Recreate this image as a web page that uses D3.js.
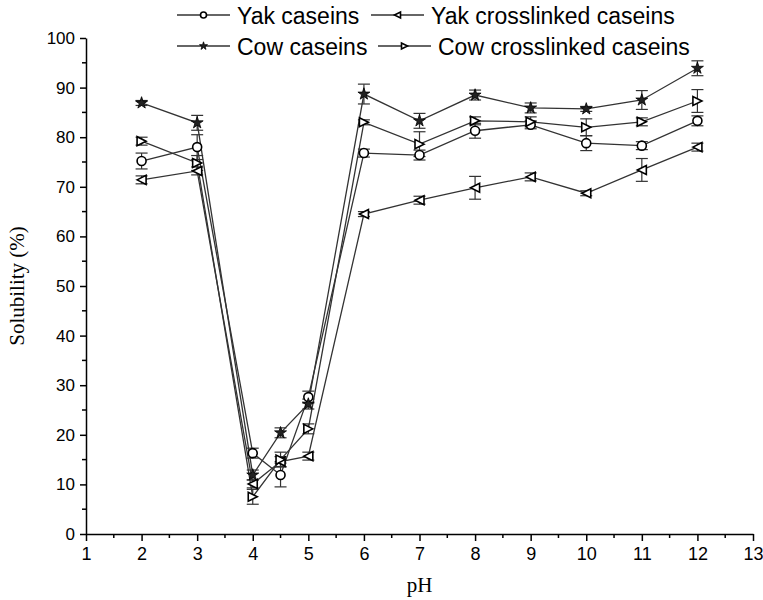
<!DOCTYPE html>
<html>
<head>
<meta charset="utf-8">
<script src="https://cdn.jsdelivr.net/npm/d3@7"></script>
<style>
  body { margin: 0; background: #fff; }
  svg text { fill: #000; }
</style>
</head>
<body>
<div id="chart"></div>
<script>
var pH = [2, 3, 4, 4.5, 5, 6, 7, 8, 9, 10, 11, 12];

var yakCaseins = [75.2, 78.0, 16.3, 11.9, 27.6, 76.8, 76.4, 81.3, 82.5, 78.8, 78.3, 83.3];
var yakCaseinsErr = [1.6, 2.5, 1.0, 2.4, 1.2, 0.8, 1.0, 1.5, 0.8, 1.5, 0.8, 1.0];

var yakCross = [71.4, 73.2, 10.1, 14.6, 15.7, 64.5, 67.3, 69.8, 72.0, 68.7, 73.4, 78.0];
var yakCrossErr = [0.8, 0.8, 0.8, 1.0, 0.8, 0.5, 0.8, 2.3, 0.8, 0.5, 2.3, 0.8];

var cowCaseins = [86.9, 82.9, 11.9, 20.4, 26.2, 88.7, 83.3, 88.5, 85.9, 85.7, 87.5, 93.9];
var cowCaseinsErr = [0.5, 1.5, 1.0, 1.0, 1.0, 2.0, 1.5, 1.0, 1.0, 0.5, 1.9, 1.5];

var cowCross = [79.2, 74.8, 7.5, 15.0, 21.2, 83.0, 78.6, 83.3, 83.1, 82.0, 83.1, 87.3];
var cowCrossErr = [0.8, 1.5, 1.5, 1.5, 1.0, 0.5, 2.5, 0.8, 1.0, 1.7, 0.8, 2.3];

var xTicks = [1, 2, 3, 4, 5, 6, 7, 8, 9, 10, 11, 12, 13];
var yTicks = [0, 10, 20, 30, 40, 50, 60, 70, 80, 90, 100];

var series = [
  { name: "Yak caseins", values: yakCaseins, err: yakCaseinsErr, marker: "circle" },
  { name: "Yak crosslinked caseins", values: yakCross, err: yakCrossErr, marker: "left" },
  { name: "Cow caseins", values: cowCaseins, err: cowCaseinsErr, marker: "star" },
  { name: "Cow crosslinked caseins", values: cowCross, err: cowCrossErr, marker: "right" }
];

var width = 763, height = 600;
var svg = d3.select("#chart").append("svg")
  .attr("width", width)
  .attr("height", height);

var x = d3.scaleLinear().domain([1, 13]).range([86, 753]);
var y = d3.scaleLinear().domain([0, 100]).range([534, 38]);

var lineColor = "#333";

// axes
var xAxis = d3.axisBottom(x).tickValues(xTicks).tickSize(7).tickSizeOuter(0).tickPadding(6);
var gx = svg.append("g").attr("transform", "translate(0," + y(0) + ")").call(xAxis);
gx.selectAll("text")
  .style("font-family", "'Liberation Sans Narrow', 'Liberation Sans', Arial, sans-serif")
  .style("font-size", "18px");
var xMinor = d3.range(1.5, 13, 1);
gx.selectAll(".minor").data(xMinor).enter().append("line")
  .attr("class", "minor")
  .attr("x1", function(d) { return x(d); }).attr("x2", function(d) { return x(d); })
  .attr("y1", 0).attr("y2", 4).attr("stroke", "#000");

var yAxis = d3.axisLeft(y).tickValues(yTicks).tickSize(6).tickSizeOuter(0).tickPadding(5);
var gy = svg.append("g").attr("transform", "translate(" + x(1) + ",0)").call(yAxis);
gy.selectAll("text")
  .style("font-family", "'Liberation Sans', Arial, sans-serif")
  .style("font-size", "17px");
var yMinor = d3.range(5, 100, 10);
gy.selectAll(".minor").data(yMinor).enter().append("line")
  .attr("class", "minor")
  .attr("y1", function(d) { return y(d); }).attr("y2", function(d) { return y(d); })
  .attr("x1", 0).attr("x2", -4).attr("stroke", "#000");

svg.selectAll(".domain, .tick line, .minor").attr("stroke", "#000").attr("stroke-width", 1.5);

// axis titles
svg.append("text")
  .attr("x", (x(1) + x(13)) / 2).attr("y", 592)
  .attr("text-anchor", "middle")
  .style("font-family", "'Liberation Serif', 'Times New Roman', serif")
  .style("font-size", "21px")
  .text("pH");

svg.append("text")
  .attr("transform", "translate(24," + y(50) + ") rotate(-90)")
  .attr("text-anchor", "middle")
  .style("font-family", "'Liberation Serif', 'Times New Roman', serif")
  .style("font-size", "21px")
  .text("Solubility (%)");

// marker drawing
function drawMarker(g, type, s) {
  if (type === "circle") {
    g.append("circle").attr("r", s).attr("fill", "#fff").attr("stroke", "#000").attr("stroke-width", 1.6);
  } else if (type === "left") {
    g.append("path")
      .attr("d", "M" + (-s) + ",0L" + s + "," + (-s) + "L" + s + "," + s + "Z")
      .attr("fill", "#fff").attr("stroke", "#000").attr("stroke-width", 1.6);
  } else if (type === "right") {
    g.append("path")
      .attr("d", "M" + s + ",0L" + (-s) + "," + (-s) + "L" + (-s) + "," + s + "Z")
      .attr("fill", "#fff").attr("stroke", "#000").attr("stroke-width", 1.6);
  } else if (type === "star") {
    g.append("path")
      .attr("d", d3.symbol().type(d3.symbolStar).size(s * s * 2.2)())
      .attr("fill", "#222").attr("stroke", "#000").attr("stroke-width", 0.8);
  }
}

var line = d3.line()
  .x(function(d) { return x(d[0]); })
  .y(function(d) { return y(d[1]); });

// lines
series.forEach(function(s) {
  var pts = pH.map(function(p, i) { return [p, s.values[i]]; });
  svg.append("path")
    .attr("d", line(pts))
    .attr("fill", "none")
    .attr("stroke", lineColor)
    .attr("stroke-width", 1.3);
});

// error bars
series.forEach(function(s) {
  var g = svg.append("g").attr("stroke", "#333").attr("stroke-width", 1.2);
  pH.forEach(function(p, i) {
    var cx = x(p), top = y(s.values[i] + s.err[i]), bot = y(s.values[i] - s.err[i]);
    g.append("line").attr("x1", cx).attr("x2", cx).attr("y1", top).attr("y2", bot);
    g.append("line").attr("x1", cx - 6).attr("x2", cx + 6).attr("y1", top).attr("y2", top);
    g.append("line").attr("x1", cx - 6).attr("x2", cx + 6).attr("y1", bot).attr("y2", bot);
  });
});

// markers
series.forEach(function(s) {
  pH.forEach(function(p, i) {
    var g = svg.append("g").attr("transform", "translate(" + x(p) + "," + y(s.values[i]) + ")");
    drawMarker(g, s.marker, 4.5);
  });
});

// legend
var legendPos = [
  { lx: 177, ly: 15 },
  { lx: 371, ly: 15 },
  { lx: 177, ly: 46 },
  { lx: 378, ly: 46 }
];
series.forEach(function(s, i) {
  var p = legendPos[i];
  var g = svg.append("g").attr("transform", "translate(" + p.lx + "," + p.ly + ")");
  g.append("line").attr("x1", 0).attr("x2", 53).attr("y1", 0).attr("y2", 0)
    .attr("stroke", lineColor).attr("stroke-width", 1.3);
  var m = g.append("g").attr("transform", "translate(26.5,0)");
  drawMarker(m, s.marker, 3);
  g.append("text")
    .attr("x", 60).attr("y", 8.5)
    .style("font-family", "'Liberation Sans', Arial, sans-serif")
    .style("font-size", "23px")
    .text(s.name);
});
</script>
</body>
</html>
